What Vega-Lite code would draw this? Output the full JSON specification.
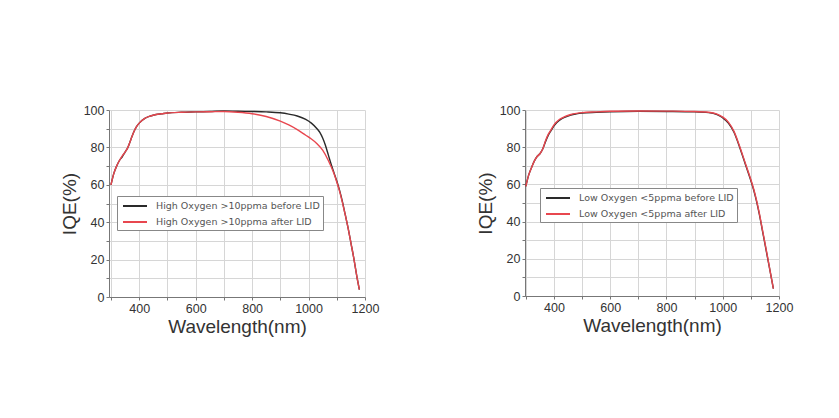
{
  "$schema": "https://vega.github.io/schema/vega-lite/v6.json",
  "background": "white",
  "padding": {"left": 60, "top": 104, "right": 5, "bottom": 5},
  "config": {
    "font": "Liberation Sans",
    "view": {"stroke": null},
    "axis": {
      "labelFont": "Liberation Sans", "labelFontSize": 12.5, "labelColor": "#333",
      "titleFont": "Liberation Sans", "titleFontSize": 19, "titleFontWeight": "normal", "titleColor": "#333",
      "domainColor": "#777", "tickColor": "#777", "tickSize": 3,
      "gridColor": "#d6d6d6", "gridWidth": 1
    },
    "legend": {
      "labelFont": "DejaVu Sans", "labelFontSize": 9.5, "labelColor": "#555", "labelLimit": 400,
      "symbolType": "M-2,0H2", "symbolSize": 144, "symbolStrokeWidth": 2, "symbolOffset": 8,
      "strokeColor": "#888", "fillColor": "white", "padding": 3, "rowPadding": 4,
      "labelOffset": 14, "title": null
    }
  },
  "datasets": {
    "high": [
      {"wl": 300, "iqe": 60, "s": "High Oxygen >10ppma before LID"},
      {"wl": 310, "iqe": 66, "s": "High Oxygen >10ppma before LID"},
      {"wl": 320, "iqe": 70, "s": "High Oxygen >10ppma before LID"},
      {"wl": 330, "iqe": 73, "s": "High Oxygen >10ppma before LID"},
      {"wl": 340, "iqe": 75, "s": "High Oxygen >10ppma before LID"},
      {"wl": 350, "iqe": 77.5, "s": "High Oxygen >10ppma before LID"},
      {"wl": 360, "iqe": 80, "s": "High Oxygen >10ppma before LID"},
      {"wl": 370, "iqe": 84, "s": "High Oxygen >10ppma before LID"},
      {"wl": 380, "iqe": 88, "s": "High Oxygen >10ppma before LID"},
      {"wl": 390, "iqe": 91, "s": "High Oxygen >10ppma before LID"},
      {"wl": 400, "iqe": 93, "s": "High Oxygen >10ppma before LID"},
      {"wl": 420, "iqe": 95.5, "s": "High Oxygen >10ppma before LID"},
      {"wl": 440, "iqe": 96.8, "s": "High Oxygen >10ppma before LID"},
      {"wl": 460, "iqe": 97.6, "s": "High Oxygen >10ppma before LID"},
      {"wl": 480, "iqe": 98, "s": "High Oxygen >10ppma before LID"},
      {"wl": 500, "iqe": 98.4, "s": "High Oxygen >10ppma before LID"},
      {"wl": 550, "iqe": 98.8, "s": "High Oxygen >10ppma before LID"},
      {"wl": 600, "iqe": 99, "s": "High Oxygen >10ppma before LID"},
      {"wl": 650, "iqe": 99.2, "s": "High Oxygen >10ppma before LID"},
      {"wl": 700, "iqe": 99.5, "s": "High Oxygen >10ppma before LID"},
      {"wl": 750, "iqe": 99.3, "s": "High Oxygen >10ppma before LID"},
      {"wl": 800, "iqe": 99.2, "s": "High Oxygen >10ppma before LID"},
      {"wl": 850, "iqe": 99, "s": "High Oxygen >10ppma before LID"},
      {"wl": 900, "iqe": 98.5, "s": "High Oxygen >10ppma before LID"},
      {"wl": 930, "iqe": 97.8, "s": "High Oxygen >10ppma before LID"},
      {"wl": 960, "iqe": 96.8, "s": "High Oxygen >10ppma before LID"},
      {"wl": 990, "iqe": 95, "s": "High Oxygen >10ppma before LID"},
      {"wl": 1010, "iqe": 93, "s": "High Oxygen >10ppma before LID"},
      {"wl": 1030, "iqe": 90, "s": "High Oxygen >10ppma before LID"},
      {"wl": 1040, "iqe": 88, "s": "High Oxygen >10ppma before LID"},
      {"wl": 1050, "iqe": 85, "s": "High Oxygen >10ppma before LID"},
      {"wl": 1060, "iqe": 81, "s": "High Oxygen >10ppma before LID"},
      {"wl": 1070, "iqe": 76, "s": "High Oxygen >10ppma before LID"},
      {"wl": 1080, "iqe": 71, "s": "High Oxygen >10ppma before LID"},
      {"wl": 1090, "iqe": 66.5, "s": "High Oxygen >10ppma before LID"},
      {"wl": 1100, "iqe": 62, "s": "High Oxygen >10ppma before LID"},
      {"wl": 1110, "iqe": 57, "s": "High Oxygen >10ppma before LID"},
      {"wl": 1120, "iqe": 51, "s": "High Oxygen >10ppma before LID"},
      {"wl": 1130, "iqe": 44, "s": "High Oxygen >10ppma before LID"},
      {"wl": 1140, "iqe": 37, "s": "High Oxygen >10ppma before LID"},
      {"wl": 1150, "iqe": 29, "s": "High Oxygen >10ppma before LID"},
      {"wl": 1160, "iqe": 21, "s": "High Oxygen >10ppma before LID"},
      {"wl": 1170, "iqe": 12, "s": "High Oxygen >10ppma before LID"},
      {"wl": 1180, "iqe": 4, "s": "High Oxygen >10ppma before LID"},
      {"wl": 300, "iqe": 60, "s": "High Oxygen >10ppma after LID"},
      {"wl": 310, "iqe": 66, "s": "High Oxygen >10ppma after LID"},
      {"wl": 320, "iqe": 70, "s": "High Oxygen >10ppma after LID"},
      {"wl": 330, "iqe": 73, "s": "High Oxygen >10ppma after LID"},
      {"wl": 340, "iqe": 75.5, "s": "High Oxygen >10ppma after LID"},
      {"wl": 350, "iqe": 77.5, "s": "High Oxygen >10ppma after LID"},
      {"wl": 360, "iqe": 80, "s": "High Oxygen >10ppma after LID"},
      {"wl": 370, "iqe": 84, "s": "High Oxygen >10ppma after LID"},
      {"wl": 380, "iqe": 88, "s": "High Oxygen >10ppma after LID"},
      {"wl": 390, "iqe": 91, "s": "High Oxygen >10ppma after LID"},
      {"wl": 400, "iqe": 93, "s": "High Oxygen >10ppma after LID"},
      {"wl": 420, "iqe": 95.5, "s": "High Oxygen >10ppma after LID"},
      {"wl": 440, "iqe": 96.8, "s": "High Oxygen >10ppma after LID"},
      {"wl": 460, "iqe": 97.6, "s": "High Oxygen >10ppma after LID"},
      {"wl": 480, "iqe": 98, "s": "High Oxygen >10ppma after LID"},
      {"wl": 500, "iqe": 98.4, "s": "High Oxygen >10ppma after LID"},
      {"wl": 550, "iqe": 98.8, "s": "High Oxygen >10ppma after LID"},
      {"wl": 600, "iqe": 99, "s": "High Oxygen >10ppma after LID"},
      {"wl": 650, "iqe": 99.1, "s": "High Oxygen >10ppma after LID"},
      {"wl": 700, "iqe": 99.2, "s": "High Oxygen >10ppma after LID"},
      {"wl": 750, "iqe": 98.8, "s": "High Oxygen >10ppma after LID"},
      {"wl": 800, "iqe": 98, "s": "High Oxygen >10ppma after LID"},
      {"wl": 850, "iqe": 96.5, "s": "High Oxygen >10ppma after LID"},
      {"wl": 900, "iqe": 94, "s": "High Oxygen >10ppma after LID"},
      {"wl": 930, "iqe": 92, "s": "High Oxygen >10ppma after LID"},
      {"wl": 960, "iqe": 89.5, "s": "High Oxygen >10ppma after LID"},
      {"wl": 990, "iqe": 86.5, "s": "High Oxygen >10ppma after LID"},
      {"wl": 1010, "iqe": 84.5, "s": "High Oxygen >10ppma after LID"},
      {"wl": 1030, "iqe": 82, "s": "High Oxygen >10ppma after LID"},
      {"wl": 1050, "iqe": 78.5, "s": "High Oxygen >10ppma after LID"},
      {"wl": 1070, "iqe": 73, "s": "High Oxygen >10ppma after LID"},
      {"wl": 1090, "iqe": 66, "s": "High Oxygen >10ppma after LID"},
      {"wl": 1100, "iqe": 61.5, "s": "High Oxygen >10ppma after LID"},
      {"wl": 1110, "iqe": 56.5, "s": "High Oxygen >10ppma after LID"},
      {"wl": 1120, "iqe": 50.5, "s": "High Oxygen >10ppma after LID"},
      {"wl": 1130, "iqe": 44, "s": "High Oxygen >10ppma after LID"},
      {"wl": 1140, "iqe": 37, "s": "High Oxygen >10ppma after LID"},
      {"wl": 1150, "iqe": 29, "s": "High Oxygen >10ppma after LID"},
      {"wl": 1160, "iqe": 21, "s": "High Oxygen >10ppma after LID"},
      {"wl": 1170, "iqe": 12, "s": "High Oxygen >10ppma after LID"},
      {"wl": 1180, "iqe": 4, "s": "High Oxygen >10ppma after LID"}
    ],
    "low": [
      {"wl": 300, "iqe": 59, "s": "Low Oxygen <5ppma before LID"},
      {"wl": 310, "iqe": 65, "s": "Low Oxygen <5ppma before LID"},
      {"wl": 320, "iqe": 69, "s": "Low Oxygen <5ppma before LID"},
      {"wl": 330, "iqe": 72.5, "s": "Low Oxygen <5ppma before LID"},
      {"wl": 340, "iqe": 75, "s": "Low Oxygen <5ppma before LID"},
      {"wl": 350, "iqe": 76.5, "s": "Low Oxygen <5ppma before LID"},
      {"wl": 360, "iqe": 79, "s": "Low Oxygen <5ppma before LID"},
      {"wl": 370, "iqe": 83, "s": "Low Oxygen <5ppma before LID"},
      {"wl": 380, "iqe": 86.5, "s": "Low Oxygen <5ppma before LID"},
      {"wl": 390, "iqe": 89, "s": "Low Oxygen <5ppma before LID"},
      {"wl": 400, "iqe": 91.5, "s": "Low Oxygen <5ppma before LID"},
      {"wl": 420, "iqe": 94.5, "s": "Low Oxygen <5ppma before LID"},
      {"wl": 440, "iqe": 96.2, "s": "Low Oxygen <5ppma before LID"},
      {"wl": 460, "iqe": 97.3, "s": "Low Oxygen <5ppma before LID"},
      {"wl": 480, "iqe": 97.9, "s": "Low Oxygen <5ppma before LID"},
      {"wl": 500, "iqe": 98.3, "s": "Low Oxygen <5ppma before LID"},
      {"wl": 550, "iqe": 98.7, "s": "Low Oxygen <5ppma before LID"},
      {"wl": 600, "iqe": 99, "s": "Low Oxygen <5ppma before LID"},
      {"wl": 700, "iqe": 99.3, "s": "Low Oxygen <5ppma before LID"},
      {"wl": 800, "iqe": 99.2, "s": "Low Oxygen <5ppma before LID"},
      {"wl": 900, "iqe": 99, "s": "Low Oxygen <5ppma before LID"},
      {"wl": 950, "iqe": 98.6, "s": "Low Oxygen <5ppma before LID"},
      {"wl": 980, "iqe": 97.5, "s": "Low Oxygen <5ppma before LID"},
      {"wl": 1000, "iqe": 95.8, "s": "Low Oxygen <5ppma before LID"},
      {"wl": 1020, "iqe": 93, "s": "Low Oxygen <5ppma before LID"},
      {"wl": 1040, "iqe": 88, "s": "Low Oxygen <5ppma before LID"},
      {"wl": 1060, "iqe": 80, "s": "Low Oxygen <5ppma before LID"},
      {"wl": 1080, "iqe": 71, "s": "Low Oxygen <5ppma before LID"},
      {"wl": 1100, "iqe": 62, "s": "Low Oxygen <5ppma before LID"},
      {"wl": 1110, "iqe": 57, "s": "Low Oxygen <5ppma before LID"},
      {"wl": 1120, "iqe": 51, "s": "Low Oxygen <5ppma before LID"},
      {"wl": 1130, "iqe": 44, "s": "Low Oxygen <5ppma before LID"},
      {"wl": 1140, "iqe": 36, "s": "Low Oxygen <5ppma before LID"},
      {"wl": 1150, "iqe": 28, "s": "Low Oxygen <5ppma before LID"},
      {"wl": 1160, "iqe": 20, "s": "Low Oxygen <5ppma before LID"},
      {"wl": 1170, "iqe": 12, "s": "Low Oxygen <5ppma before LID"},
      {"wl": 1180, "iqe": 4, "s": "Low Oxygen <5ppma before LID"},
      {"wl": 300, "iqe": 59, "s": "Low Oxygen <5ppma after LID"},
      {"wl": 310, "iqe": 65, "s": "Low Oxygen <5ppma after LID"},
      {"wl": 320, "iqe": 69, "s": "Low Oxygen <5ppma after LID"},
      {"wl": 330, "iqe": 72.5, "s": "Low Oxygen <5ppma after LID"},
      {"wl": 340, "iqe": 75, "s": "Low Oxygen <5ppma after LID"},
      {"wl": 350, "iqe": 76.5, "s": "Low Oxygen <5ppma after LID"},
      {"wl": 360, "iqe": 79, "s": "Low Oxygen <5ppma after LID"},
      {"wl": 370, "iqe": 83.5, "s": "Low Oxygen <5ppma after LID"},
      {"wl": 380, "iqe": 87, "s": "Low Oxygen <5ppma after LID"},
      {"wl": 390, "iqe": 89.5, "s": "Low Oxygen <5ppma after LID"},
      {"wl": 400, "iqe": 92, "s": "Low Oxygen <5ppma after LID"},
      {"wl": 420, "iqe": 95, "s": "Low Oxygen <5ppma after LID"},
      {"wl": 440, "iqe": 96.6, "s": "Low Oxygen <5ppma after LID"},
      {"wl": 460, "iqe": 97.6, "s": "Low Oxygen <5ppma after LID"},
      {"wl": 480, "iqe": 98.2, "s": "Low Oxygen <5ppma after LID"},
      {"wl": 500, "iqe": 98.6, "s": "Low Oxygen <5ppma after LID"},
      {"wl": 550, "iqe": 99, "s": "Low Oxygen <5ppma after LID"},
      {"wl": 600, "iqe": 99.3, "s": "Low Oxygen <5ppma after LID"},
      {"wl": 700, "iqe": 99.5, "s": "Low Oxygen <5ppma after LID"},
      {"wl": 800, "iqe": 99.4, "s": "Low Oxygen <5ppma after LID"},
      {"wl": 900, "iqe": 99.2, "s": "Low Oxygen <5ppma after LID"},
      {"wl": 950, "iqe": 98.8, "s": "Low Oxygen <5ppma after LID"},
      {"wl": 980, "iqe": 97.8, "s": "Low Oxygen <5ppma after LID"},
      {"wl": 1000, "iqe": 96.2, "s": "Low Oxygen <5ppma after LID"},
      {"wl": 1020, "iqe": 93.5, "s": "Low Oxygen <5ppma after LID"},
      {"wl": 1040, "iqe": 88.5, "s": "Low Oxygen <5ppma after LID"},
      {"wl": 1060, "iqe": 80.5, "s": "Low Oxygen <5ppma after LID"},
      {"wl": 1080, "iqe": 71.5, "s": "Low Oxygen <5ppma after LID"},
      {"wl": 1100, "iqe": 62.5, "s": "Low Oxygen <5ppma after LID"},
      {"wl": 1110, "iqe": 57.5, "s": "Low Oxygen <5ppma after LID"},
      {"wl": 1120, "iqe": 51.5, "s": "Low Oxygen <5ppma after LID"},
      {"wl": 1130, "iqe": 44.5, "s": "Low Oxygen <5ppma after LID"},
      {"wl": 1140, "iqe": 36.5, "s": "Low Oxygen <5ppma after LID"},
      {"wl": 1150, "iqe": 28.5, "s": "Low Oxygen <5ppma after LID"},
      {"wl": 1160, "iqe": 20.5, "s": "Low Oxygen <5ppma after LID"},
      {"wl": 1170, "iqe": 12, "s": "Low Oxygen <5ppma after LID"},
      {"wl": 1180, "iqe": 4, "s": "Low Oxygen <5ppma after LID"}
    ]
  },
  "resolve": {"scale": {"color": "independent"}, "legend": {"color": "independent"}},
  "spacing": 97,
  "hconcat": [
    {
      "width": 256,
      "height": 187,
      "data": {"name": "high"},
      "mark": {"type": "line", "strokeWidth": 1.4, "clip": true, "interpolate": "monotone"},
      "encoding": {
        "x": {"field": "wl", "type": "quantitative",
          "scale": {"domain": [293, 1200], "nice": false, "zero": false},
          "axis": {"title": "Wavelength(nm)", "format": "d", "values": [300, 400, 500, 600, 700, 800, 900, 1000, 1100, 1200],
            "labelExpr": "datum.value % 200 == 0 ? datum.label : ''", "labelFlush": false, "titlePadding": 3}},
        "y": {"field": "iqe", "type": "quantitative",
          "scale": {"domain": [0, 100], "nice": false},
          "axis": {"title": "IQE(%)", "values": [0, 10, 20, 30, 40, 50, 60, 70, 80, 90, 100],
            "labelExpr": "datum.value % 20 == 0 ? datum.label : ''", "titlePadding": 4}},
        "color": {"field": "s", "type": "nominal",
          "sort": ["High Oxygen >10ppma before LID", "High Oxygen >10ppma after LID"],
          "scale": {"domain": ["High Oxygen >10ppma before LID", "High Oxygen >10ppma after LID"], "range": ["#2a2a2a", "#e8474f"]},
          "legend": {"orient": "none", "legendX": 8, "legendY": 86}},
        "order": {"field": "wl", "type": "quantitative"}
      }
    },
    {
      "width": 254,
      "height": 186,
      "data": {"name": "low"},
      "mark": {"type": "line", "strokeWidth": 1.4, "clip": true, "interpolate": "monotone"},
      "encoding": {
        "x": {"field": "wl", "type": "quantitative",
          "scale": {"domain": [297, 1200], "nice": false, "zero": false},
          "axis": {"title": "Wavelength(nm)", "format": "d", "values": [300, 400, 500, 600, 700, 800, 900, 1000, 1100, 1200],
            "labelExpr": "datum.value % 200 == 0 ? datum.label : ''", "labelFlush": false, "titlePadding": 3}},
        "y": {"field": "iqe", "type": "quantitative",
          "scale": {"domain": [0, 100], "nice": false},
          "axis": {"title": "IQE(%)", "values": [0, 10, 20, 30, 40, 50, 60, 70, 80, 90, 100],
            "labelExpr": "datum.value % 20 == 0 ? datum.label : ''", "titlePadding": 4}},
        "color": {"field": "s", "type": "nominal",
          "sort": ["Low Oxygen <5ppma before LID", "Low Oxygen <5ppma after LID"],
          "scale": {"domain": ["Low Oxygen <5ppma before LID", "Low Oxygen <5ppma after LID"], "range": ["#2a2a2a", "#e8474f"]},
          "legend": {"orient": "none", "legendX": 15, "legendY": 78}},
        "order": {"field": "wl", "type": "quantitative"}
      }
    }
  ]
}
